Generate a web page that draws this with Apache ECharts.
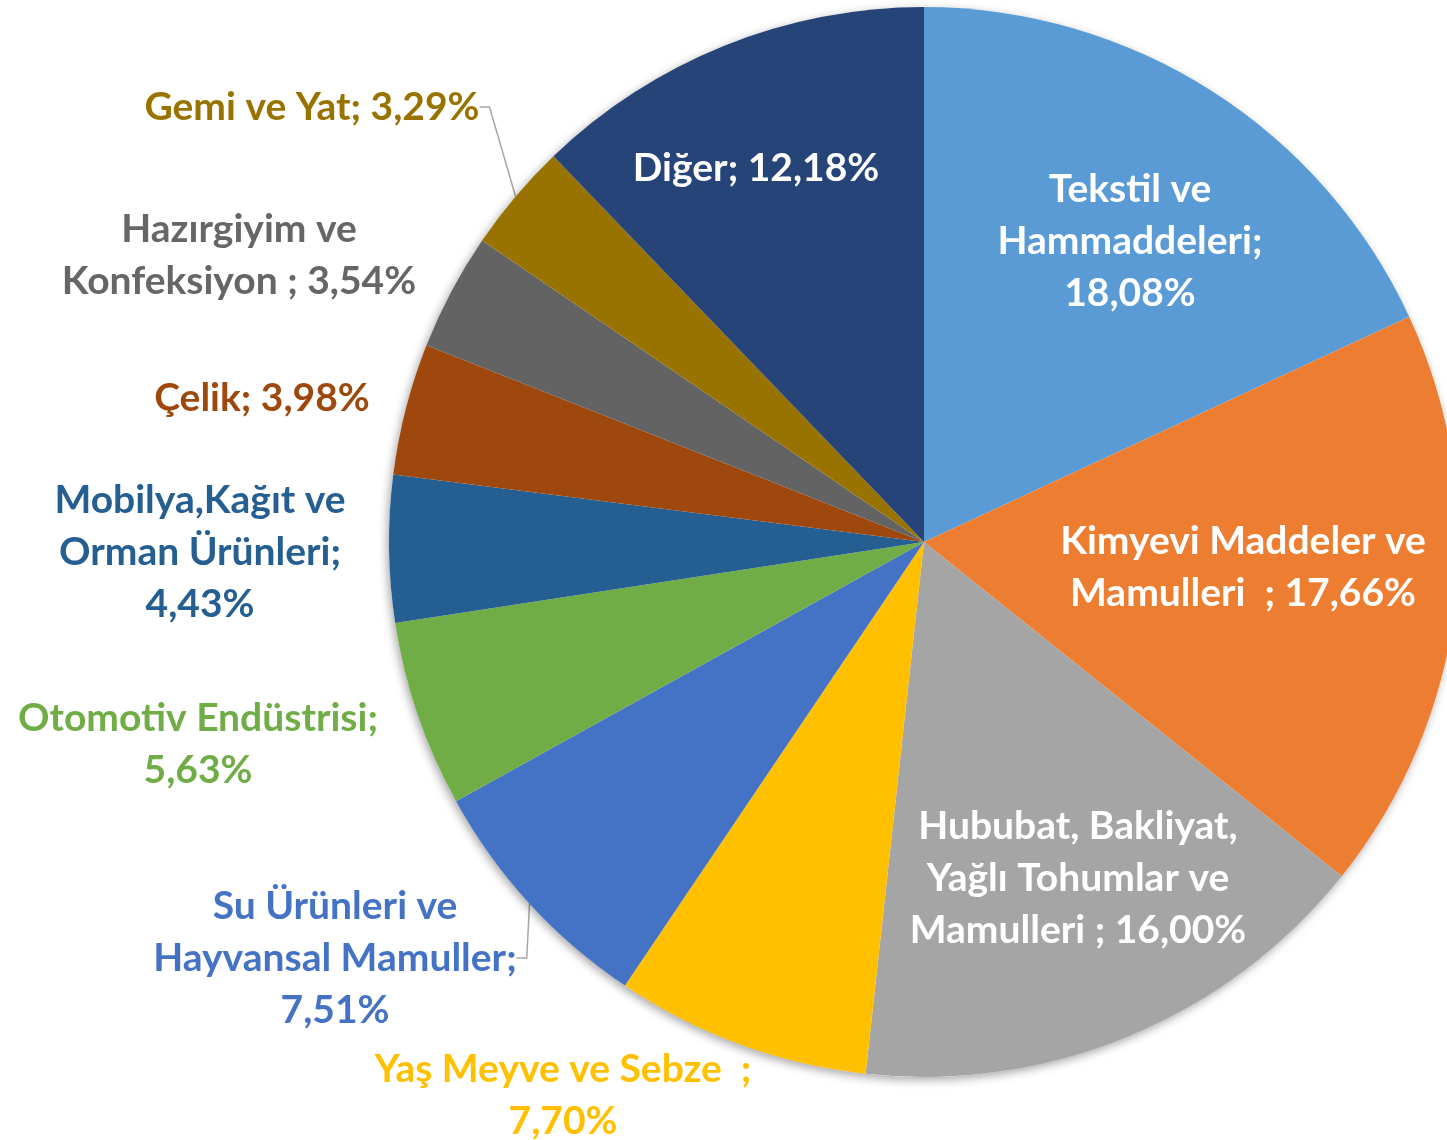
<!DOCTYPE html>
<html>
<head>
<meta charset="utf-8">
<script src="https://cdn.jsdelivr.net/npm/echarts@6/dist/echarts.min.js"></script>
<style>
  html, body { margin: 0; padding: 0; background: #fff; }
  #main { width: 1447px; height: 1140px; }
</style>
</head>
<body>
<div id="main"></div>
<script>
// sektör adları (etiket metni) ve payları
var categories = [
  'Tekstil ve\nHammaddeleri;\n18,08%',
  'Kimyevi Maddeler ve\nMamulleri  ; 17,66%',
  'Hububat, Bakliyat,\nYağlı Tohumlar ve\nMamulleri ; 16,00%',
  'Yaş Meyve ve Sebze  ;\n7,70%',
  'Su Ürünleri ve\nHayvansal Mamuller;\n7,51%',
  'Otomotiv Endüstrisi;\n5,63%',
  'Mobilya,Kağıt ve\nOrman Ürünleri;\n4,43%',
  'Çelik; 3,98%',
  'Hazırgiyim ve\nKonfeksiyon ; 3,54%',
  'Gemi ve Yat; 3,29%',
  'Diğer; 12,18%'
];
var shares = [18.08, 17.66, 16.00, 7.70, 7.51, 5.63, 4.43, 3.98, 3.54, 3.29, 12.18];

var colors = ['#5B9BD5', '#ED7D31', '#A5A5A5', '#FFC000', '#4472C4', '#70AD47',
              '#255E91', '#9E480E', '#636363', '#997300', '#264478'];
var textColors = ['#fff', '#fff', '#fff', '#FFC000', '#4472C4', '#70AD47',
                  '#255E91', '#9E480E', '#666666', '#997300', '#fff'];
// etiket merkezleri (piksel)
var labelPos = [[1130, 241], [1243, 567], [1078, 878], [563, 1095], [335, 958],
                [198, 744], [200, 552], [262, 398], [239, 255], [312, 107], [756, 168]];
var withLine = [false, false, false, false, true, false, false, false, false, true, false];

var myChart = echarts.init(document.getElementById('main'));

var data = [];
for (var i = 0; i < shares.length; i++) {
  data.push({
    value: shares[i],
    name: categories[i],
    itemStyle: { color: colors[i] },
    label: { color: textColors[i] },
    labelLine: { show: withLine[i] }
  });
}

var option = {
  animation: false,
  series: [
    {
      // gölge için alt katman
      type: 'pie',
      silent: true,
      center: [924, 542],
      radius: 535,
      label: { show: false },
      labelLine: { show: false },
      itemStyle: {
        color: '#fff',
        shadowBlur: 10,
        shadowColor: 'rgba(0,0,0,0.35)',
        shadowOffsetX: -2,
        shadowOffsetY: 3
      },
      data: [1]
    },
    {
      type: 'pie',
      center: [924, 542],
      radius: 535,
      startAngle: 90,
      clockwise: true,
      avoidLabelOverlap: false,
      itemStyle: { borderWidth: 0 },
      label: {
        show: true,
        position: 'outside',
        formatter: '{b}',
        fontFamily: 'Lato',
        fontWeight: 'bold',
        fontSize: 39,
        lineHeight: 52,
        align: 'center'
      },
      labelLine: {
        length: 8,
        length2: 10,
        lineStyle: { color: '#A6A6A6', width: 1.5 }
      },
      labelLayout: function (params) {
        var p = labelPos[params.dataIndex];
        return { x: p[0], y: p[1], align: 'center', verticalAlign: 'middle' };
      },
      data: data
    }
  ]
};

myChart.setOption(option);
</script>
</body>
</html>
